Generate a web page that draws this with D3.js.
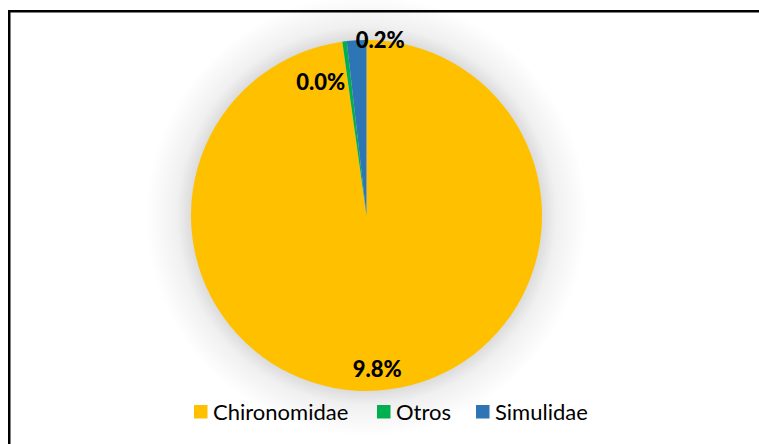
<!DOCTYPE html>
<html>
<head>
<meta charset="utf-8">
<script src="https://cdn.jsdelivr.net/npm/d3@7"></script>
<style>
  html, body { margin: 0; padding: 0; background: #fff; overflow: hidden; }
  svg { display: block; overflow: hidden; }
</style>
</head>
<body>
<div id="chart"></div>
<script>
// Data
const categories = ["Chironomidae", "Otros", "Simulidae"];
const values = [97.8, 0.4, 1.8];
const labels = ["9.8%", "0.0%", "0.2%"];
const colors = ["#FFC000", "#00B050", "#2E75B6"];

// Dimensions
const width = 759, height = 444;
const cx = 366.5, cy = 215.5, radius = 175.5;

const svg = d3.select("#chart").append("svg")
    .attr("width", width)
    .attr("height", height);

// Soft glow behind the pie
const defs = svg.append("defs");
const glow = defs.append("radialGradient")
    .attr("id", "glow")
    .attr("gradientUnits", "userSpaceOnUse")
    .attr("cx", cx).attr("cy", cy).attr("r", radius + 45);
glow.append("stop").attr("offset", radius / (radius + 45)).attr("stop-color", "#dcdcdc");
glow.append("stop").attr("offset", (radius + 14) / (radius + 45)).attr("stop-color", "#f0f0f0");
glow.append("stop").attr("offset", 1).attr("stop-color", "#ffffff");

svg.append("circle")
    .attr("cx", cx).attr("cy", cy)
    .attr("r", radius + 45)
    .attr("fill", "url(#glow)");

// Frame (only top and left edges fall inside the view)
svg.append("rect")
    .attr("x", 9.25).attr("y", 11.25)
    .attr("width", 2000).attr("height", 2000)
    .attr("fill", "none")
    .attr("stroke", "#000")
    .attr("stroke-width", 2.5);

// Pie
const pie = d3.pie().sort(null).value(d => d.value);
const arcs = pie(categories.map((c, i) => ({ name: c, value: values[i], label: labels[i], color: colors[i] })));
const arc = d3.arc().innerRadius(0).outerRadius(radius);

const g = svg.append("g").attr("transform", `translate(${cx},${cy})`);

g.selectAll("path.slice")
    .data(arcs)
    .enter().append("path")
    .attr("class", "slice")
    .attr("d", arc)
    .attr("fill", d => d.data.color);

// Label placement: angle (degrees, clockwise from top) and distance from centre
const labelPlace = [
    { angle: 176, dist: 0.88 },
    { angle: -19, dist: 0.80 },
    { angle: 4.5, dist: 1.0 }
];

g.selectAll("text.lbl")
    .data(arcs)
    .enter().append("text")
    .attr("class", "lbl")
    .attr("x", (d, i) => Math.sin(labelPlace[i].angle * Math.PI / 180) * radius * labelPlace[i].dist)
    .attr("y", (d, i) => -Math.cos(labelPlace[i].angle * Math.PI / 180) * radius * labelPlace[i].dist)
    .attr("text-anchor", "middle")
    .attr("dy", "0.35em")
    .style("font-family", "Lato, 'Open Sans', sans-serif")
    .style("font-weight", "900")
    .style("font-size", "22px")
    .style("fill", "#000")
    .text(d => d.data.label);

// Legend
const legendX = [194, 377, 476];
const legend = svg.append("g");
const items = legend.selectAll("g")
    .data(categories)
    .enter().append("g")
    .attr("transform", (d, i) => `translate(${legendX[i]},405)`);

items.append("rect")
    .attr("width", 13.5).attr("height", 13.5)
    .attr("fill", (d, i) => colors[i]);

items.append("text")
    .attr("x", 19)
    .attr("y", 14.5)
    .style("font-family", "Lato, 'Open Sans', sans-serif")
    .style("font-size", "22px")
    .style("fill", "#000")
    .text(d => d);
</script>
</body>
</html>
